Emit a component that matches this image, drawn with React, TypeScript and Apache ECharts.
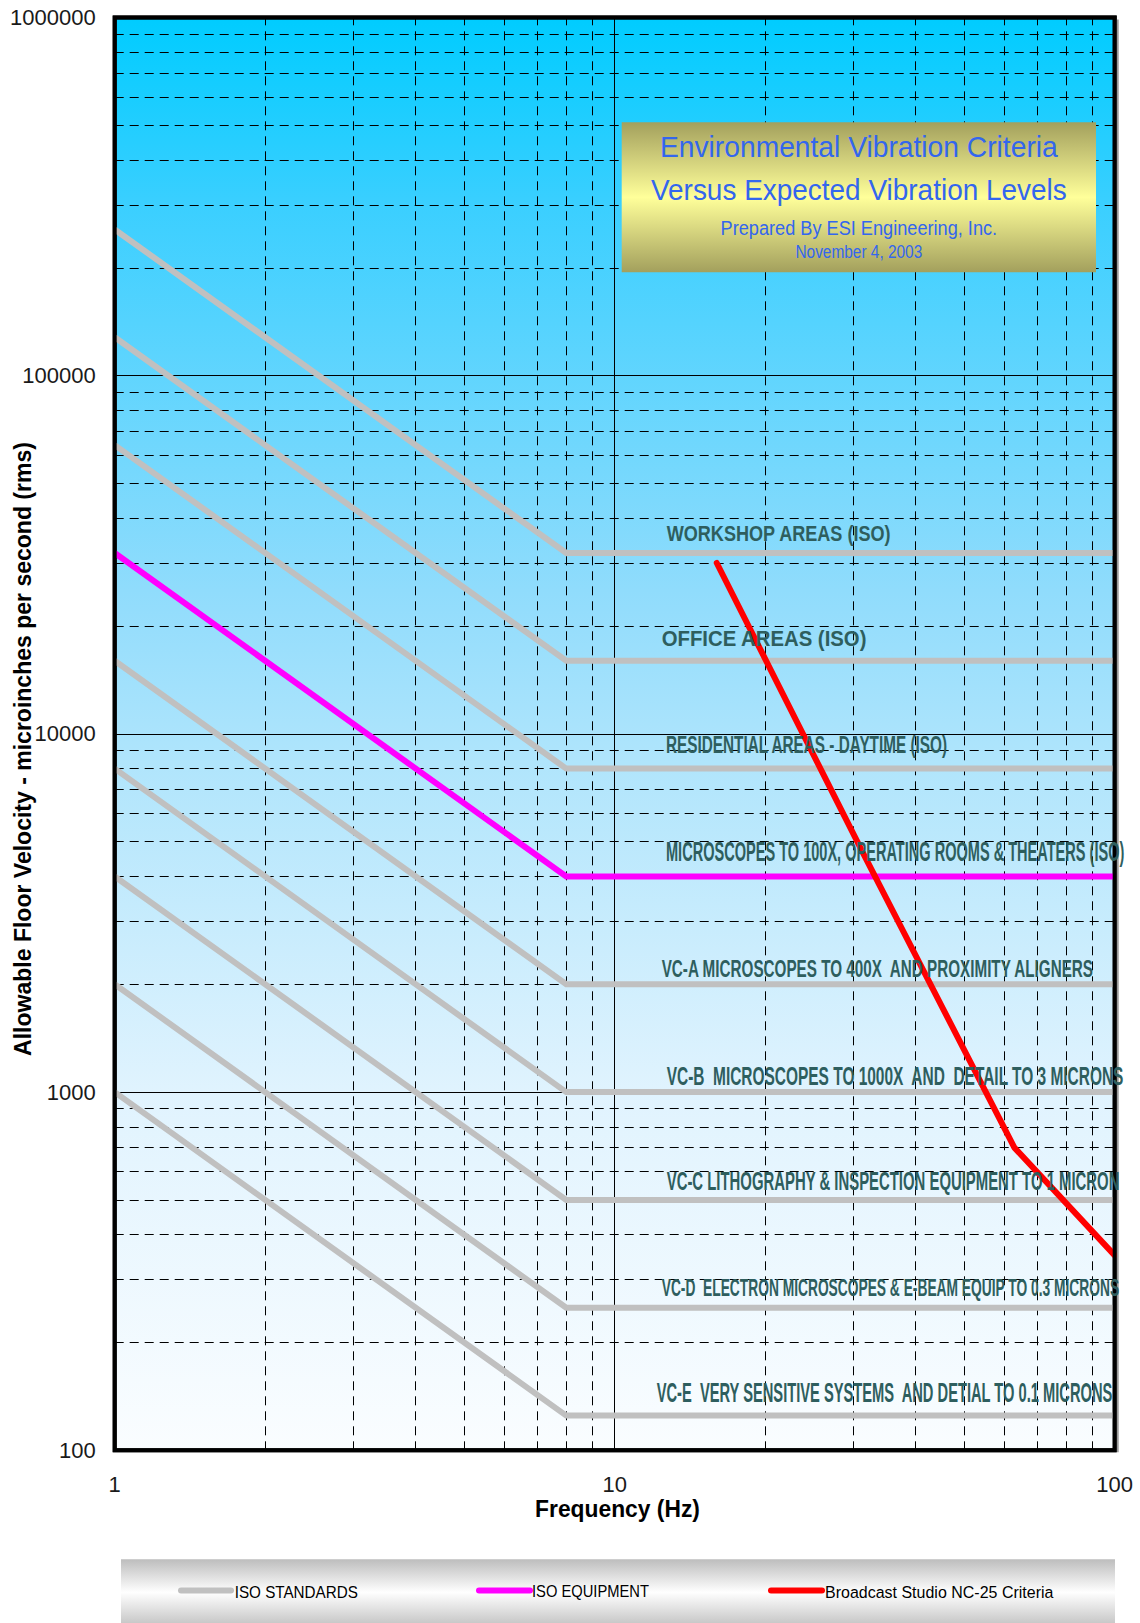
import React, { useEffect, useRef } from "react";
import * as echarts from "echarts";

// ---------- DATA ----------
const FREQ_ISO = [1, 8, 100];
const workshop = [256000, 32000, 32000];
const office = [128000, 16000, 16000];
const residential = [64000, 8000, 8000];
const operatingRooms = [32000, 4000, 4000];
const vcA = [16000, 2000, 2000];
const vcB = [8000, 1000, 1000];
const vcC = [4000, 500, 500];
const vcD = [2000, 250, 250];
const vcE = [1000, 125, 125];

const FREQ_NC25 = [16, 31.5, 63, 100];
const nc25 = [30000, 4600, 700, 350];

const X_MINOR = [2, 3, 4, 5, 6, 7, 8, 9, 20, 30, 40, 50, 60, 70, 80, 90];
const Y_MINOR = [
  200, 300, 400, 500, 600, 700, 800, 900,
  2000, 3000, 4000, 5000, 6000, 7000, 8000, 9000,
  20000, 30000, 40000, 50000, 60000, 70000, 80000, 90000,
  200000, 300000, 400000, 500000, 600000, 700000, 800000, 900000,
];

const ISO_NAMES = [
  "WORKSHOP AREAS (ISO)",
  "OFFICE AREAS (ISO)",
  "RESIDENTIAL AREAS - DAYTIME (ISO)",
  "MICROSCOPES TO 100X, OPERATING ROOMS & THEATERS (ISO)",
  "VC-A MICROSCOPES TO 400X  AND PROXIMITY ALIGNERS",
  "VC-B  MICROSCOPES TO 1000X  AND  DETAIL TO 3 MICRONS",
  "VC-C LITHOGRAPHY & INSPECTION EQUIPMENT TO 1 MICRON",
  "VC-D  ELECTRON MICROSCOPES & E-BEAM EQUIP TO 0.3 MICRONS",
  "VC-E  VERY SENSITIVE SYSTEMS  AND DETIAL TO 0.1 MICRONS",
];
const ISO_VALUES = [workshop, office, residential, operatingRooms, vcA, vcB, vcC, vcD, vcE];
const ISO_KIND = ["std", "std", "std", "equip", "std", "std", "std", "std", "std"];

const LEGEND_NAMES = ["ISO STANDARDS", "ISO EQUIPMENT", "Broadcast Studio NC-25 Criteria"];
const TITLE_LINES = [
  "Environmental Vibration Criteria",
  "Versus Expected Vibration Levels",
  "Prepared By ESI Engineering, Inc.",
  "November 4, 2003",
];
const X_NAME = "Frequency (Hz)";
const Y_NAME = "Allowable Floor Velocity - microinches per second (rms)";

// ---------- LAYOUT (pixels / styles) ----------
const FONT = "Liberation Sans";
const LABEL_LAYOUT = [
  { left: 666.7, width: 225, size: 22, dy: -20 },
  { left: 661.7, width: 205.6, size: 22, dy: -22.5 },
  { left: 666, width: 282, size: 23, dy: -23.7 },
  { left: 666, width: 459, size: 28, dy: -24.8 },
  { left: 661.7, width: 433.3, size: 23, dy: -16 },
  { left: 666.7, width: 457.3, size: 25.5, dy: -16 },
  { left: 666.7, width: 453.3, size: 25.5, dy: -19 },
  { left: 661.7, width: 458.3, size: 23.5, dy: -19.4 },
  { left: 656.7, width: 457.3, size: 27, dy: -22.5 },
];
const TITLE_LAYOUT = [
  { y: 146.7, size: 30, width: 398 },
  { y: 189.7, size: 30, width: 416 },
  { y: 227.8, size: 21, width: 276.7 },
  { y: 251.7, size: 18, width: 126.7 },
];
const LEGEND_LAYOUT = [
  { x1: 181, x2: 231, tx: 234.7, tw: 123.3, color: "#C0C0C0" },
  { x1: 479, x2: 530, tx: 532, tw: 117, color: "#FF00FF" },
  { x1: 771, x2: 822, tx: 825, tw: 228.6, color: "#FF0000" },
];

let measureCtx: CanvasRenderingContext2D | null = null;
function fitScale(text: string, size: number, weight: string, target: number) {
  if (!measureCtx) measureCtx = document.createElement("canvas").getContext("2d");
  if (!measureCtx) return 1;
  measureCtx.font = `${weight} ${size}px "${FONT}"`;
  const w = measureCtx.measureText(text).width;
  return w > 0 ? target / w : 1;
}

function txt(
  text: string,
  x: number,
  y: number,
  size: number,
  weight: string,
  fill: string,
  align: string,
  target: number | null,
  z: number,
  rotation = 0
) {
  const s = target ? fitScale(text, size, weight, target) : 1;
  return {
    type: "text",
    x,
    y,
    rotation,
    scaleX: s,
    z,
    silent: true,
    style: {
      text,
      fill,
      fontSize: size,
      fontFamily: FONT,
      fontWeight: weight,
      align,
      textAlign: align,
      verticalAlign: "middle",
      textVerticalAlign: "middle",
    },
  };
}

export default function App() {
  const ref = useRef<HTMLDivElement>(null);

  useEffect(() => {
    if (!ref.current) return;
    const chart = echarts.init(ref.current, null, { renderer: "svg" });

    const plotBg = new echarts.graphic.LinearGradient(0, 0, 0, 1, [
      { offset: 0, color: "#00CCFF" },
      { offset: 0.13, color: "#3ACFFF" },
      { offset: 0.4, color: "#90DCFC" },
      { offset: 0.52, color: "#B0E5FC" },
      { offset: 0.75, color: "#E0F3FE" },
      { offset: 1, color: "#FAFDFF" },
    ]);

    const dash = [9, 6];
    const series: any[] = [
      {
        type: "line",
        name: "grid",
        z: 1,
        silent: true,
        showSymbol: false,
        symbol: "none",
        data: [[1, 100]],
        lineStyle: { width: 0, opacity: 0 },
        markLine: {
          z: 1,
          silent: true,
          symbol: ["none", "none"],
          label: { show: false },
          emphasis: { disabled: true },
          lineStyle: { color: "#000", width: 1, type: dash, opacity: 1 },
          data: [
            ...X_MINOR.map((v) => ({ xAxis: v })),
            ...Y_MINOR.map((v) => ({ yAxis: v })),
          ],
        },
      },
    ];

    ISO_VALUES.forEach((vals, i) => {
      series.push({
        type: "line",
        name: ISO_NAMES[i],
        z: ISO_KIND[i] === "equip" ? 4 : 3,
        showSymbol: false,
        symbol: "none",
        silent: true,
        data: FREQ_ISO.map((f, j) => [f, vals[j]]),
        lineStyle: {
          color: ISO_KIND[i] === "equip" ? "#FF00FF" : "#C0C0C0",
          width: 6,
          cap: "butt",
          join: "miter",
        },
      });
    });

    series.push({
      type: "line",
      name: LEGEND_NAMES[2],
      z: 5,
      showSymbol: false,
      symbol: "none",
      silent: true,
      data: FREQ_NC25.map((f, j) => [f, nc25[j]]),
      lineStyle: { color: "#FF0000", width: 6, cap: "round", join: "round" },
    });

    chart.setOption({
      animation: false,
      grid: {
        left: 114.7,
        right: 25.3,
        top: 17.5,
        bottom: 172.7,
        show: true,
        backgroundColor: plotBg,
        borderColor: "#000",
        borderWidth: 4,
      },
      xAxis: {
        type: "log",
        logBase: 10,
        min: 1,
        max: 100,
        axisLine: { show: false },
        axisTick: { show: false },
        axisLabel: {
          fontSize: 22,
          fontFamily: FONT,
          color: "#1a1a1a",
          margin: 23,
          lineHeight: 22,
          showMinLabel: true,
          showMaxLabel: true,
          formatter: (v: number) => String(Math.round(v)),
        },
        splitLine: { show: true, lineStyle: { color: "#000", width: 1, type: "solid" } },
      },
      yAxis: {
        type: "log",
        logBase: 10,
        min: 100,
        max: 1000000,
        axisLine: { show: false },
        axisTick: { show: false },
        axisLabel: {
          fontSize: 22,
          fontFamily: FONT,
          color: "#1a1a1a",
          margin: 19,
          showMinLabel: true,
          showMaxLabel: true,
          formatter: (v: number) => String(Math.round(v)),
        },
        splitLine: { show: true, lineStyle: { color: "#000", width: 1, type: "solid" } },
      },
      series,
    });

    // graphic overlays positioned through the axes
    const [gx0, gy0] = chart.convertToPixel({ gridIndex: 0 }, [1, 1000000]) as number[];
    const [gx1, gy1] = chart.convertToPixel({ gridIndex: 0 }, [100, 100]) as number[];

    const graphics: any[] = [];

    // plot frame on top of the curves
    graphics.push({
      type: "rect",
      z: 40,
      silent: true,
      shape: { x: gx0, y: gy0, width: gx1 - gx0, height: gy1 - gy0 },
      style: { fill: "none", stroke: "#000", lineWidth: 4 },
    });
    graphics.push({
      type: "line",
      z: 39,
      silent: true,
      shape: { x1: gx1 + 3, y1: gy0 + 2, x2: gx1 + 3, y2: gy1 + 2 },
      style: { stroke: "#9a9a9a", lineWidth: 2 },
    });

    // curve labels (above the frame)
    ISO_NAMES.forEach((name, i) => {
      const L = LABEL_LAYOUT[i];
      const yLine = chart.convertToPixel({ yAxisIndex: 0 }, ISO_VALUES[i][2]) as number;
      graphics.push(txt(name, L.left, yLine + L.dy, L.size, "bold", "#2E5E5E", "left", L.width, 45));
    });

    // title box
    const tbX = 621.7,
      tbY = 122.3,
      tbW = 474.3,
      tbH = 150;
    graphics.push({
      type: "rect",
      z: 50,
      silent: true,
      shape: { x: tbX, y: tbY, width: tbW, height: tbH },
      style: {
        fill: new echarts.graphic.LinearGradient(0, 0, 0, 1, [
          { offset: 0, color: "#A3A05D" },
          { offset: 0.5, color: "#FFFF9A" },
          { offset: 1, color: "#A3A05D" },
        ]),
      },
    });
    TITLE_LINES.forEach((t, i) => {
      const L = TITLE_LAYOUT[i];
      graphics.push(txt(t, tbX + tbW / 2, L.y, L.size, "normal", "#3366EE", "center", L.width, 51));
    });

    // axis names
    graphics.push(txt(X_NAME, 617.5, 1509, 23, "bold", "#000", "center", 165, 30));
    graphics.push(txt(Y_NAME, 23, 749, 23, "bold", "#000", "center", 614, 30, Math.PI / 2));

    // legend box
    graphics.push({
      type: "rect",
      z: 30,
      silent: true,
      shape: { x: 121, y: 1559.3, width: 994, height: 66 },
      style: {
        fill: new echarts.graphic.LinearGradient(0, 0, 0, 1, [
          { offset: 0, color: "#BDBDBD" },
          { offset: 0.5, color: "#FFFFFF" },
          { offset: 1, color: "#C4C4C4" },
        ]),
      },
    });
    LEGEND_LAYOUT.forEach((L, i) => {
      graphics.push({
        type: "line",
        z: 31,
        silent: true,
        shape: { x1: L.x1, y1: 1590.5, x2: L.x2, y2: 1590.5 },
        style: { stroke: L.color, lineWidth: 6, lineCap: "round" },
      });
      graphics.push(txt(LEGEND_NAMES[i], L.tx, 1591.5, 17, "normal", "#000", "left", L.tw, 32));
    });

    chart.setOption({ graphic: graphics });

    return () => chart.dispose();
  }, []);

  return (
    <div
      ref={ref}
      style={{ position: "absolute", left: 0, top: 0, width: 1140, height: 1623 }}
    />
  );
}
